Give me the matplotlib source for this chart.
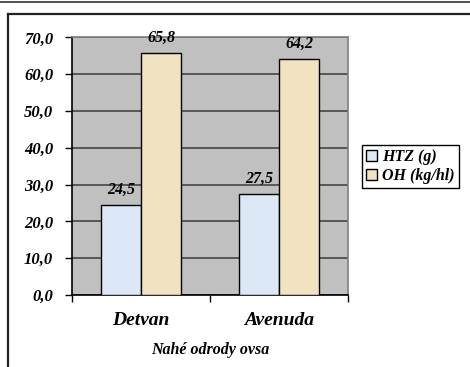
import numpy as np
import matplotlib.pyplot as plt
from matplotlib.lines import Line2D

# -------- data --------
varieties = ["Detvan", "Avenuda"]
htz = [24.5, 27.5]      # HTZ (g)
oh = [65.8, 64.2]       # OH (kg/hl)
series_names = ["HTZ (g)", "OH (kg/hl)"]
y_ticks = [0, 10, 20, 30, 40, 50, 60, 70]
# ----------------------

SERIF = "Liberation Serif"
BAR_W = 0.29


def fmt(v):
    return f"{v:.1f}".replace(".", ",")


def main():
    fig = plt.figure(figsize=(4.70, 3.67), dpi=100)
    ax = fig.add_axes([72 / 470, 72 / 367, 276 / 470, 257.6 / 367])

    x = np.arange(len(varieties))
    b1 = ax.bar(x - BAR_W / 2, htz, BAR_W, color="#DCE8F6",
                edgecolor="black", linewidth=1, label=series_names[0], zorder=3)
    b2 = ax.bar(x + BAR_W / 2, oh, BAR_W, color="#F1E2C2",
                edgecolor="black", linewidth=1, label=series_names[1], zorder=3)

    for bars, vals in ((b1, htz), (b2, oh)):
        for rect, v in zip(bars, vals):
            ax.annotate(fmt(v), (rect.get_x() + rect.get_width() / 2, v),
                        xytext=(0, 5), textcoords="offset points",
                        ha="center", va="bottom", family=SERIF,
                        weight="bold", style="italic", fontsize=11.5, zorder=4)

    ax.set_facecolor("#C0C0C0")
    ax.set_xlim(-0.5, len(varieties) - 0.5)
    ax.set_ylim(0, 70)
    ax.set_yticks(y_ticks)
    ax.set_yticklabels([fmt(v) for v in y_ticks])
    ax.yaxis.grid(True, color="#3a3a3a", linewidth=1.1, zorder=1)
    ax.set_axisbelow(True)

    # category labels centred, tick marks on the category boundaries
    ax.set_xticks(x)
    ax.set_xticklabels(varieties)
    ax.set_xticks(np.arange(-0.5, len(varieties), 1.0), minor=True)
    ax.tick_params(axis="x", which="major", length=0, pad=12.5)
    ax.tick_params(axis="x", which="minor", length=5, width=1, color="black")
    ax.tick_params(axis="y", length=5, width=1, color="black", pad=8.5)

    for lbl in ax.get_xticklabels():
        lbl.set_fontfamily(SERIF)
        lbl.set_fontweight("bold")
        lbl.set_fontstyle("italic")
        lbl.set_fontsize(14)
    for lbl in ax.get_yticklabels():
        lbl.set_fontfamily(SERIF)
        lbl.set_fontweight("bold")
        lbl.set_fontstyle("italic")
        lbl.set_fontsize(12)

    ax.set_xlabel("Nahé odrody ovsa", family=SERIF, weight="bold",
                  style="italic", fontsize=11.5, labelpad=9)

    for side in ("left", "bottom"):
        ax.spines[side].set_color("black")
        ax.spines[side].set_linewidth(1.2)
    for side in ("top", "right"):
        ax.spines[side].set_color("#808080")
        ax.spines[side].set_linewidth(1.2)

    leg = fig.legend(handles=[b1, b2], loc="upper left",
                     bbox_to_anchor=(362 / 470, 1 - 145 / 367),
                     prop={"family": SERIF, "weight": "bold",
                           "style": "italic", "size": 11.5},
                     frameon=True, fancybox=False, framealpha=1,
                     edgecolor="black", handlelength=0.7, handleheight=0.7,
                     handletextpad=0.3, borderpad=0.25, labelspacing=0.2,
                     borderaxespad=0)
    leg.get_frame().set_linewidth(1.0)

    # chart frame
    fig.add_artist(Line2D([0, 1], [1 - 1.5 / 367] * 2, color="#333333",
                          linewidth=1.2))
    fig.add_artist(Line2D([8 / 470, 1], [1 - 13.5 / 367] * 2, color="#222222",
                          linewidth=1.6))
    fig.add_artist(Line2D([8 / 470] * 2, [0, 1 - 13.5 / 367], color="#222222",
                          linewidth=1.6))

    fig.savefig("out.png", dpi=100)


if __name__ == "__main__":
    main()
